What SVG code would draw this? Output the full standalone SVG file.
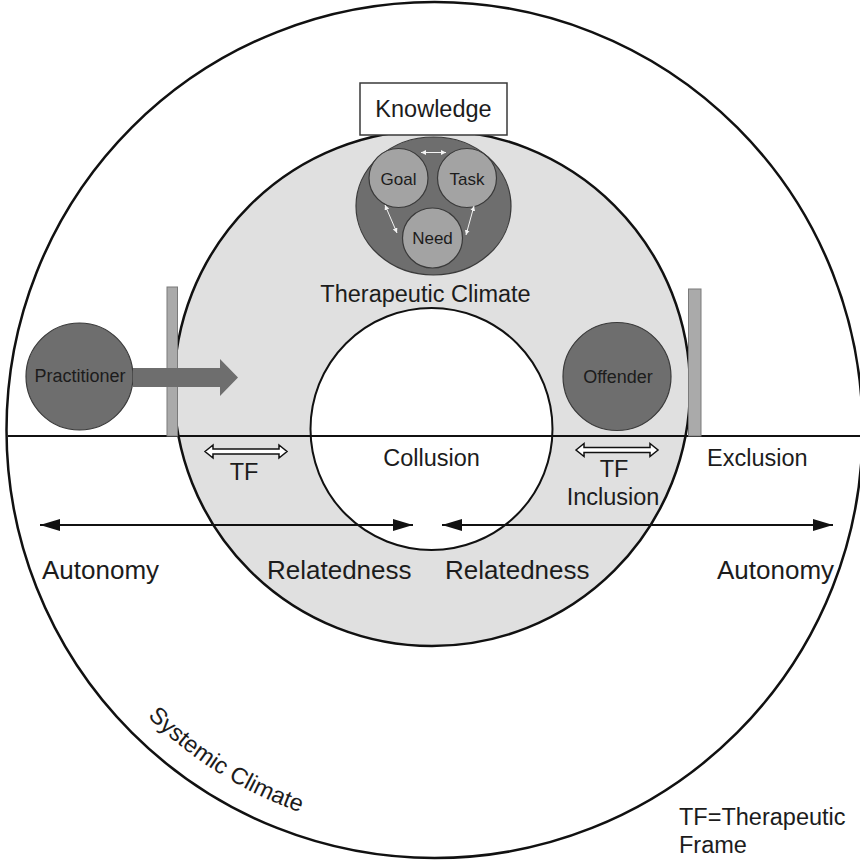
<svg xmlns="http://www.w3.org/2000/svg" width="860" height="864" viewBox="0 0 860 864">
<style>
text{font-family:"Liberation Sans",Arial,sans-serif;fill:#1c1c1c}
.t23{font-size:23.5px}
.t26{font-size:26px}
.t18{font-size:18px}
.t17{font-size:17px}
.mid{text-anchor:middle}
.ring{stroke:#111;stroke-width:2.5}
.dark{fill:#6e6e6e;stroke:#3a3a3a;stroke-width:1.2}
.small{fill:#a3a3a3;stroke:#3a3a3a;stroke-width:1.2}
.bar{fill:#aaaaaa;stroke:#7a7a7a;stroke-width:1}
.hollow{fill:#fff;stroke:#111;stroke-width:1.5}
.conn{stroke:#111;stroke-width:2;fill:none}
.wconn{stroke:#f4f4f4;stroke-width:1;fill:none}
</style>
<defs>
<marker id="ah" viewBox="0 0 20 12" refX="20" refY="6" markerWidth="20" markerHeight="12" markerUnits="userSpaceOnUse" orient="auto-start-reverse">
<path d="M0,0 L20,6 L0,12 z" fill="#111"/>
</marker>
<marker id="wh" viewBox="0 0 6 6" refX="6" refY="3" markerWidth="5" markerHeight="5" markerUnits="userSpaceOnUse" orient="auto-start-reverse">
<path d="M0,0 L6,3 L0,6 z" fill="#f4f4f4"/>
</marker>
<path id="sysArc" d="M 147.6 716.4 A 405 405 0 0 0 434 835"/>
</defs>
<rect width="860" height="864" fill="#fff"/>

<g id="systemic-climate">
<circle cx="434.5" cy="430" r="428" fill="none" class="ring"/>
<text class="t23"><textPath href="#sysArc">Systemic Climate</textPath></text>
</g>

<g id="therapeutic-climate">
<circle cx="432" cy="388" r="258" fill="#e0e0e0" class="ring"/>
</g>

<g id="collusion">
<circle cx="431.5" cy="429" r="121" fill="#fff" stroke="#111" stroke-width="2"/>
</g>

<g id="divider">
<line x1="8" y1="436" x2="860" y2="436" stroke="#111" stroke-width="2"/>
</g>

<g id="frame-left">
<rect x="167" y="287" width="10.5" height="149" class="bar"/>
</g>
<g id="frame-right">
<rect x="688.5" y="289" width="12.5" height="147" class="bar"/>
</g>

<g id="knowledge">
<rect x="360" y="83" width="147" height="52" fill="#fff" stroke="#3a3a3a" stroke-width="1.5"/>
<text class="t23 mid" x="433.5" y="117">Knowledge</text>
</g>

<g id="alliance">
<ellipse cx="433.5" cy="206" rx="77.5" ry="69" class="dark"/>
</g>
<g id="goal">
<circle cx="398.5" cy="178" r="29.5" class="small"/>
<text class="t17 mid" x="398.5" y="185">Goal</text>
</g>
<g id="task">
<circle cx="467" cy="178" r="29.5" class="small"/>
<text class="t17 mid" x="467" y="185">Task</text>
</g>
<g id="need">
<circle cx="432.5" cy="238" r="30" class="small"/>
<text class="t17 mid" x="432.5" y="244">Need</text>
</g>

<g id="climate-label">
<text class="t23 mid" x="425.5" y="302">Therapeutic Climate</text>
</g>

<g id="practitioner">
<circle cx="79.5" cy="376.5" r="53.5" class="dark"/>
<text class="t18 mid" x="80" y="382">Practitioner</text>
</g>
<g id="offender">
<circle cx="617" cy="376.5" r="54" class="dark"/>
<text class="t18 mid" x="618" y="383">Offender</text>
</g>

<g id="connectors">
<polygon points="133,368 220,368 220,359 238,377.5 220,396 220,387 133,387" fill="#6e6e6e"/>
<line class="wconn" x1="421" y1="152.5" x2="446" y2="152.5" marker-start="url(#wh)" marker-end="url(#wh)"/>
<line class="wconn" x1="385" y1="205" x2="397" y2="233" marker-start="url(#wh)" marker-end="url(#wh)"/>
<line class="wconn" x1="474" y1="206" x2="466" y2="235" marker-start="url(#wh)" marker-end="url(#wh)"/>
<polygon class="hollow" points="205,451.5 213,445 213,449 279,449 279,445 287,451.5 279,458 279,454 213,454 213,458"/>
<polygon class="hollow" points="576,450 584,443.5 584,447.5 650,447.5 650,443.5 658,450 650,456.5 650,452.5 584,452.5 584,456.5"/>
<line class="conn" x1="40" y1="525" x2="413" y2="525" marker-start="url(#ah)" marker-end="url(#ah)"/>
<line class="conn" x1="442" y1="525" x2="833" y2="525" marker-start="url(#ah)" marker-end="url(#ah)"/>
</g>

<g id="labels">
<text class="t23 mid" x="244" y="480">TF</text>
<text class="t23 mid" x="431.5" y="466">Collusion</text>
<text class="t23" x="707" y="466">Exclusion</text>
<text class="t23 mid" x="614" y="477">TF</text>
<text class="t23 mid" x="613" y="505">Inclusion</text>
<text class="t26" x="42" y="579">Autonomy</text>
<text class="t26" x="267" y="579">Relatedness</text>
<text class="t26" x="445" y="579">Relatedness</text>
<text class="t26" x="717" y="579">Autonomy</text>
<text class="t23" x="679" y="825">TF=Therapeutic</text>
<text class="t23" x="679" y="853">Frame</text>
</g>
</svg>
